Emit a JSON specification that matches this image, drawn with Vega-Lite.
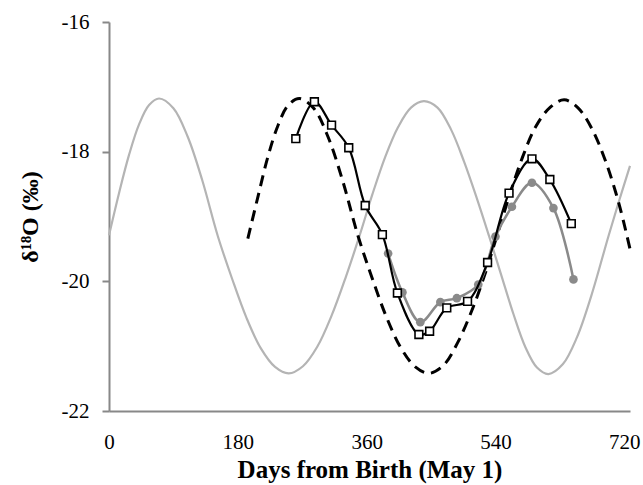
{
  "$schema": "https://vega.github.io/schema/vega-lite/v6.json",
  "width": 521,
  "height": 389,
  "autosize": "none",
  "padding": {"left": 109, "top": 22, "right": 13, "bottom": 74},
  "background": "white",
  "config": {
    "view": {"stroke": null},
    "font": "Liberation Serif",
    "axis": {"grid": false, "domainColor": "#888888", "domainWidth": 2, "tickColor": "#888888", "tickWidth": 2,
      "labelFont": "Liberation Serif", "labelFontSize": 21, "labelColor": "#000000",
      "titleFont": "Liberation Serif", "titleFontWeight": "bold", "titleColor": "#000000"}
  },
  "datasets": {
    "model": [
      {"day": 0, "v": -19.29}, {"day": 14, "v": -18.64}, {"day": 28, "v": -18.05}, {"day": 42, "v": -17.58},
      {"day": 56, "v": -17.28}, {"day": 70, "v": -17.18}, {"day": 90, "v": -17.33}, {"day": 110, "v": -17.77},
      {"day": 130, "v": -18.43}, {"day": 152, "v": -19.3}, {"day": 172, "v": -19.96}, {"day": 192, "v": -20.56},
      {"day": 212, "v": -21.03}, {"day": 232, "v": -21.32}, {"day": 251, "v": -21.42}, {"day": 271, "v": -21.31},
      {"day": 291, "v": -21.01}, {"day": 311, "v": -20.53}, {"day": 331, "v": -19.93}, {"day": 350, "v": -19.3},
      {"day": 368, "v": -18.66}, {"day": 386, "v": -18.08}, {"day": 404, "v": -17.62}, {"day": 422, "v": -17.32},
      {"day": 440, "v": -17.22}, {"day": 459, "v": -17.32}, {"day": 478, "v": -17.66}, {"day": 496, "v": -18.15},
      {"day": 514, "v": -18.72}, {"day": 531, "v": -19.3}, {"day": 548, "v": -19.9}, {"day": 565, "v": -20.5},
      {"day": 582, "v": -21.02}, {"day": 598, "v": -21.33}, {"day": 614, "v": -21.43}, {"day": 634, "v": -21.28},
      {"day": 654, "v": -20.86}, {"day": 674, "v": -20.22}, {"day": 698, "v": -19.3}, {"day": 713, "v": -18.75},
      {"day": 728, "v": -18.22}
    ],
    "shifted": [
      {"day": 194, "v": -19.34}, {"day": 208, "v": -18.7}, {"day": 222, "v": -18.08}, {"day": 236, "v": -17.6},
      {"day": 250, "v": -17.29}, {"day": 266, "v": -17.18}, {"day": 286, "v": -17.33}, {"day": 306, "v": -17.77},
      {"day": 326, "v": -18.43}, {"day": 348, "v": -19.3}, {"day": 368, "v": -19.96}, {"day": 388, "v": -20.56},
      {"day": 408, "v": -21.03}, {"day": 428, "v": -21.32}, {"day": 447, "v": -21.42}, {"day": 467, "v": -21.3},
      {"day": 487, "v": -20.95}, {"day": 507, "v": -20.45}, {"day": 525, "v": -19.9}, {"day": 542, "v": -19.3},
      {"day": 560, "v": -18.66}, {"day": 578, "v": -18.08}, {"day": 596, "v": -17.62}, {"day": 616, "v": -17.32},
      {"day": 636, "v": -17.2}, {"day": 655, "v": -17.32}, {"day": 674, "v": -17.63}, {"day": 693, "v": -18.12},
      {"day": 712, "v": -18.78}, {"day": 728, "v": -19.5}
    ],
    "squares": [
      {"day": 261, "v": -17.8}, {"day": 287, "v": -17.23}, {"day": 311, "v": -17.59}, {"day": 335, "v": -17.94},
      {"day": 358, "v": -18.83}, {"day": 382, "v": -19.28}, {"day": 403, "v": -20.18}, {"day": 433, "v": -20.82},
      {"day": 448, "v": -20.77}, {"day": 472, "v": -20.41}, {"day": 501, "v": -20.31}, {"day": 529, "v": -19.71},
      {"day": 559, "v": -18.64}, {"day": 591, "v": -18.11}, {"day": 616, "v": -18.43}, {"day": 646, "v": -19.11}
    ],
    "circles": [
      {"day": 390, "v": -19.57}, {"day": 410, "v": -20.17}, {"day": 435, "v": -20.63}, {"day": 463, "v": -20.32},
      {"day": 486, "v": -20.26}, {"day": 516, "v": -20.05}, {"day": 540, "v": -19.31}, {"day": 563, "v": -18.85},
      {"day": 591, "v": -18.48}, {"day": 621, "v": -18.87}, {"day": 649, "v": -19.97}
    ]
  },
  "encoding": {
    "x": {"field": "day", "type": "quantitative",
      "scale": {"domain": [0, 728], "nice": false, "zero": false},
      "axis": {"values": [0, 180, 360, 540, 720], "ticks": false, "labelPadding": 20, "title": "Days from Birth (May 1)", "titleFontSize": 25, "titlePadding": 5, "labelFlush": false}},
    "y": {"field": "v", "type": "quantitative",
      "scale": {"domain": [-22, -16], "nice": false, "zero": false},
      "axis": {"values": [-22, -20, -18, -16], "tickSize": 7, "labelPadding": 13, "labelExpr": "replace(datum.label, '−', '-')", "title": "δ¹⁸O (‰)", "titleFontSize": 24, "titlePadding": 19}}
  },
  "layer": [
    {"data": {"name": "model"}, "mark": {"type": "line", "color": "#b4b4b4", "strokeWidth": 2.2, "interpolate": "catmull-rom"}},
    {"data": {"name": "shifted"}, "mark": {"type": "line", "color": "#000000", "strokeWidth": 3, "strokeDash": [11, 7], "interpolate": "catmull-rom"}},
    {"data": {"name": "circles"}, "mark": {"type": "line", "color": "#8a8a8a", "strokeWidth": 2.5, "interpolate": "catmull-rom"}},
    {"data": {"name": "circles"}, "mark": {"type": "point", "shape": "circle", "filled": true, "color": "#8a8a8a", "size": 75, "opacity": 1}},
    {"data": {"name": "squares"}, "mark": {"type": "line", "color": "#000000", "strokeWidth": 2.2, "interpolate": "catmull-rom"}},
    {"data": {"name": "squares"}, "mark": {"type": "point", "shape": "square", "filled": true, "fill": "#ffffff", "stroke": "#000000", "strokeWidth": 1.6, "size": 60, "opacity": 1}}
  ]
}
